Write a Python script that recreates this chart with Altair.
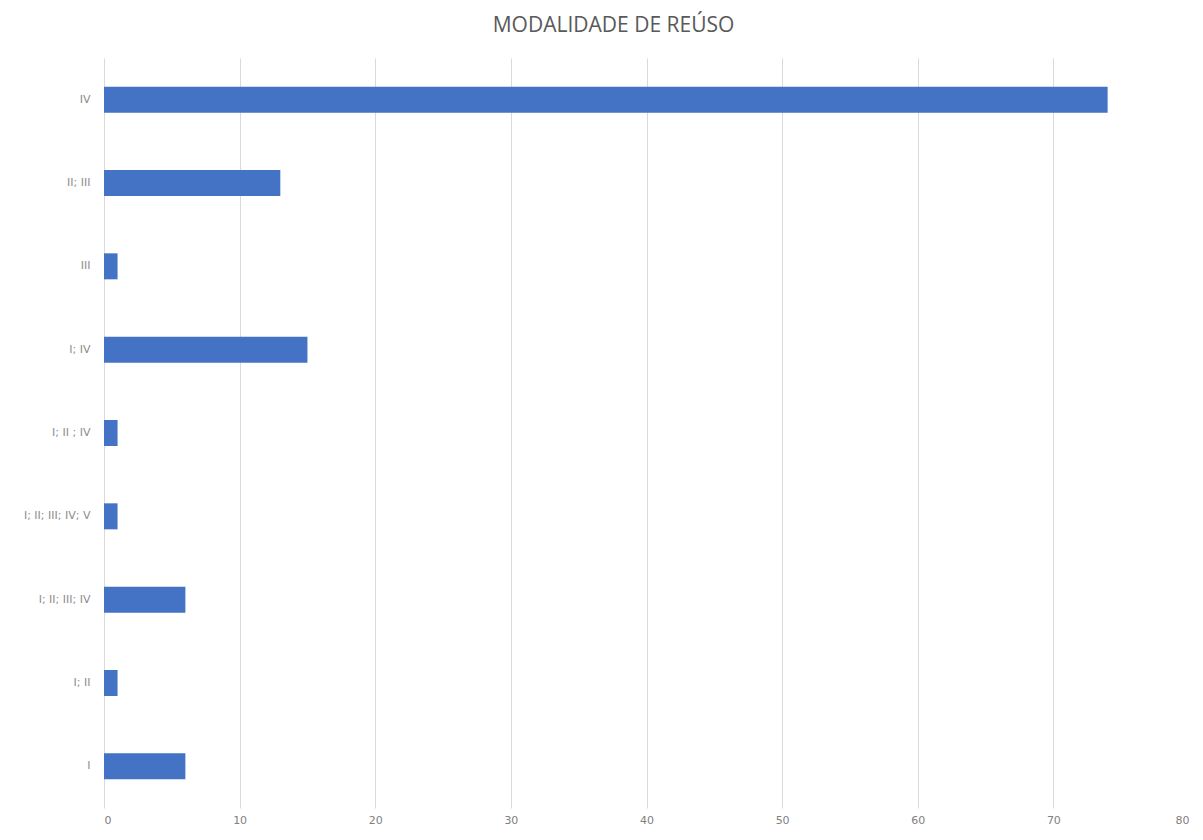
import altair as alt
import pandas as pd

categories = ["IV", "II; III", "III", "I; IV", "I; II ; IV", "I; II; III; IV; V", "I; II; III; IV", "I; II", "I"]
values = [74, 13, 1, 15, 1, 1, 6, 1, 6]

df = pd.DataFrame({"cat": categories, "val": values})

chart = alt.Chart(df).mark_bar(size=26, color="#4472C4").encode(
    x=alt.X("val:Q", scale=alt.Scale(domain=[0, 80], nice=False),
            axis=alt.Axis(values=list(range(0, 81, 10)), title=None, grid=True,
                          gridColor="#d9d9d9", domain=False, ticks=True, tickColor="#d9d9d9",
                          tickSize=0, labelColor="#808080", labelFontSize=11,
                          labelFont="DejaVu Sans", labelPadding=6)),
    y=alt.Y("cat:N", sort=categories, title=None,
            axis=alt.Axis(ticks=False, domain=False, labelColor="#8c8c8c",
                          labelFontSize=11, labelFont="DejaVu Sans", labelPadding=14)),
).properties(
    width=1085, height=750,
    title=alt.TitleParams("MODALIDADE DE REÚSO", font="Open Sans", fontSize=21,
                          fontWeight="normal", color="#595959", anchor="middle",
                          dx=-33, offset=22),
    autosize=alt.AutoSizeParams(type="none"),
    padding={"left": 96, "top": 50, "right": 0, "bottom": 18},
).configure_view(stroke=None).configure_axisY(grid=False)

chart.save("out.html", embed_options={"renderer": "svg", "actions": False})
